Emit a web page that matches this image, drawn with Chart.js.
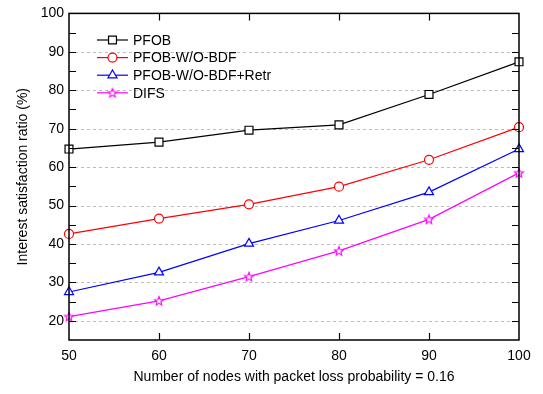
<!DOCTYPE html>
<html lang="en">
<head>
    <meta charset="UTF-8">
    <title>Interest satisfaction ratio</title>
    <script src="https://cdn.jsdelivr.net/npm/chart.js@4.4.1/dist/chart.umd.min.js"></script>
    <style>
        body { margin: 0; background: #fff; }
        canvas { display: block; }
    </style>
</head>
<body>
<canvas id="my-chart" width="543" height="394"></canvas>
<script>

    const nodes = [50, 60, 70, 80, 90, 100];
    const pfob = [64.7, 66.5, 69.6, 71.0, 78.9, 87.4];
    const pfobNoBdf = [42.6, 46.6, 50.3, 54.9, 61.9, 70.4];
    const pfobNoBdfRetr = [27.5, 32.6, 40.1, 46.1, 53.5, 64.7];
    const difs = [21.1, 25.2, 31.5, 38.2, 46.4, 58.5];

    const seriesNames = ['PFOB', 'PFOB-W/O-BDF', 'PFOB-W/O-BDF+Retr', 'DIFS'];
    const gridValues = [20, 30, 40, 50, 60, 70, 80, 90];

    Chart.defaults.font.family = "'Liberation Sans', Arial, sans-serif";
    Chart.defaults.font.size = 14;
    Chart.defaults.color = '#000';

    // 5-point hollow star marker
    const star = document.createElement('canvas');
    star.width = 12;
    star.height = 12;
    (() => {
        const c = star.getContext('2d');
        c.beginPath();
        for (let i = 0; i < 10; i++) {
            const r = i % 2 === 0 ? 4.7 : 2.0;
            const a = -Math.PI / 2 + i * Math.PI / 5;
            const px = 6 + r * Math.cos(a);
            const py = 6.4 + r * Math.sin(a);
            if (i === 0) c.moveTo(px, py); else c.lineTo(px, py);
        }
        c.closePath();
        c.fillStyle = '#fff';
        c.fill();
        c.strokeStyle = '#ff00ff';
        c.lineWidth = 1.1;
        c.stroke();
    })();

    const toPoints = (arr) => arr.map((v, i) => ({x: nodes[i], y: v}));

    const makeSet = (label, values, color, style, radius) => ({
        label: label,
        data: toPoints(values),
        borderColor: color,
        backgroundColor: '#fff',
        borderWidth: 1.2,
        pointStyle: style,
        pointRadius: radius,
        pointBorderWidth: 1.2,
        pointBorderColor: color,
        pointBackgroundColor: '#fff',
        tension: 0,
        fill: false,
        clip: false
    });

    const frame = {
        id: 'frame',
        beforeDatasetsDraw(chart) {
            const ctx = chart.ctx;
            const a = chart.chartArea;
            const ys = chart.scales.y;
            ctx.save();
            ctx.strokeStyle = '#bdbdbd';
            ctx.lineWidth = 1;
            ctx.setLineDash([3, 3]);
            ctx.beginPath();
            gridValues.forEach((v) => {
                const py = Math.round(ys.getPixelForValue(v)) + 0.5;
                ctx.moveTo(a.left, py);
                ctx.lineTo(a.right, py);
            });
            ctx.stroke();
            ctx.restore();
        },
        afterDatasetsDraw(chart) {
            const ctx = chart.ctx;
            const a = chart.chartArea;
            const xs = chart.scales.x;
            const ys = chart.scales.y;
            ctx.save();
            ctx.strokeStyle = '#000';
            ctx.lineWidth = 1.5;
            ctx.strokeRect(a.left, a.top, a.right - a.left, a.bottom - a.top);
            ctx.lineWidth = 1.2;
            ctx.beginPath();
            for (let v = 60; v <= 90; v += 10) {
                const px = Math.round(xs.getPixelForValue(v)) + 0.5;
                ctx.moveTo(px, a.bottom); ctx.lineTo(px, a.bottom - 7);
                ctx.moveTo(px, a.top); ctx.lineTo(px, a.top + 7);
            }
            for (let v = 20; v < 100; v += 5) {
                const py = Math.round(ys.getPixelForValue(v)) + 0.5;
                ctx.moveTo(a.left, py); ctx.lineTo(a.left + 7, py);
                ctx.moveTo(a.right, py); ctx.lineTo(a.right - 7, py);
            }
            ctx.stroke();

            // legend
            ctx.font = "14px 'Liberation Sans', Arial, sans-serif";
            ctx.textBaseline = 'middle';
            ctx.textAlign = 'left';
            chart.data.datasets.forEach((ds, i) => {
                const y = 40 + i * 17.6;
                ctx.strokeStyle = ds.borderColor;
                ctx.lineWidth = 1.2;
                ctx.beginPath();
                ctx.moveTo(97, y);
                ctx.lineTo(128, y);
                ctx.stroke();
                ctx.fillStyle = '#fff';
                Chart.helpers.drawPoint(ctx, {
                    pointStyle: ds.pointStyle,
                    radius: ds.pointRadius,
                    rotation: 0,
                    borderWidth: 1.2
                }, 112.5, y);
                ctx.fillStyle = '#000';
                ctx.fillText(ds.label, 133, y + 1);
            });
            ctx.restore();
        }
    };

    const ctx = document.getElementById('my-chart');

    const chart = new Chart(ctx, {
        type: 'line',
        data: {
            datasets: [
                makeSet(seriesNames[0], pfob, '#000000', 'rect', 5.6),
                makeSet(seriesNames[1], pfobNoBdf, '#ff0000', 'circle', 4.5),
                makeSet(seriesNames[2], pfobNoBdfRetr, '#0000ff', 'triangle', 5.2),
                makeSet(seriesNames[3], difs, '#ff00ff', star, 6)
            ]
        },
        options: {
            responsive: false,
            animation: false,
            layout: { padding: { top: 12, right: 24, left: 0, bottom: 0 } },
            plugins: {
                legend: { display: false },
                tooltip: { enabled: false }
            },
            scales: {
                x: {
                    type: 'linear',
                    min: 50,
                    max: 100,
                    ticks: { stepSize: 10, padding: 8, autoSkip: false, maxRotation: 0 },
                    grid: { display: false, drawTicks: false },
                    border: { display: false },
                    title: {
                        display: true,
                        text: 'Number of nodes with packet loss probability = 0.16',
                        padding: { top: 0, bottom: 8 }
                    },
                    afterFit(scale) { scale.height = 54; }
                },
                y: {
                    min: 15,
                    max: 100,
                    ticks: {
                        stepSize: 5,
                        padding: 5,
                        autoSkip: false,
                        callback: (v) => (v % 10 === 0 ? v : '')
                    },
                    grid: { display: false, drawTicks: false },
                    border: { display: false },
                    title: {
                        display: true,
                        text: 'Interest satisfaction ratio (%)',
                        padding: { top: 15, bottom: 0 }
                    },
                    afterFit(scale) { scale.width = 69; }
                }
            }
        },
        plugins: [frame]
    });

</script>
</body>
</html>
